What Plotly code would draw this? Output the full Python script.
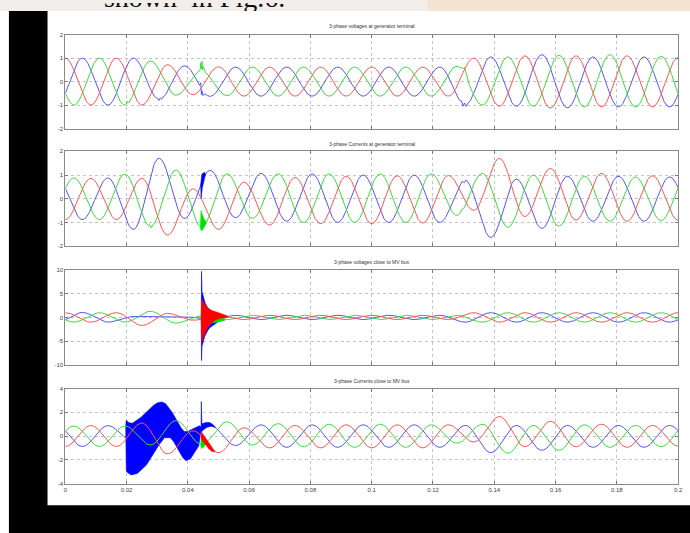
import numpy as np
import plotly.graph_objects as go

W, H = 690, 533
F = 60.0
HALF = 1.0 / (2 * F)          # half period between successive extrema

# ---------------- data (extremum values read every half cycle) ----------------
# Panel 1: 3-phase voltages at generator terminal
p1_red_first, p1_blue_first, p1_green_first = 0.0, -1 / 360, -1 / 180
p1_red = [1.0, -1.0, 1.0, -1.0, 0.72, -0.56, 0.63, -0.62, 0.62, -0.62, 0.62, -0.62, 0.62,
          -0.62, 0.62, -0.62, 1.0, -1.05, 1.1, -1.13, 1.1, -1.08, 1.1, -1.08, 1.02]
p1_blue = [-1.0, 1.0, -1.0, 1.0, -0.76, 0.67, -0.63, 0.62, -0.62, 0.62, -0.62, 0.62, -0.62,
           0.62, -0.62, 0.62, -1.0, 1.05, -1.05, 1.15, -1.12, 1.05, -1.08, 1.05, -1.08, 1.05]
p1_green = [1.0, -1.0, 1.0, -1.0, 0.88, -0.58, 0.45, -0.6, 0.62, -0.62, 0.62, -0.62, 0.62,
            -0.62, 0.62, -0.62, 0.65, -1.0, 1.05, -1.05, 1.12, -1.08, 1.15, -1.08, 1.08, -1.05]
p1_green_dev_t = [0.0198, 0.0202, 0.0206, 0.0210, 0.0436, 0.0440, 0.0442, 0.0444, 0.0446,
                  0.0448, 0.0451, 0.0455, 0.1285, 0.1297, 0.1303, 0.1310, 0.1320]
p1_green_dev_v = [0, 0.12, 0.0, 0, 0, 0.05, 0.35, 0.1, 0.42, 0.05, 0.2, 0, 0, 0.1, 0.3, 0.1, 0]
p1_blue_dev_t = [0.0295, 0.0300, 0.0305, 0.0310, 0.0315, 0.0320, 0.0326, 0.0335,
                 0.0438, 0.0442, 0.0444, 0.0446, 0.0449, 0.0453, 0.0458,
                 0.1288, 0.1293, 0.1298, 0.1303, 0.1308, 0.1313, 0.1320]
p1_blue_dev_v = [0, 0.06, -0.05, 0.06, -0.04, 0.05, -0.03, 0,
                 0, 0.2, -0.25, -0.05, -0.2, -0.05, 0,
                 0, 0.1, -0.08, 0.08, -0.06, 0.06, 0]

# Panel 2: 3-phase currents at generator terminal
p2_red_first, p2_blue_first, p2_green_first = 0.0, -1 / 360, -1 / 180
p2_green = [-0.88, 0.88, -0.88, 1.04, -1.18, 1.21, -1.2, 1.05, -0.83, 1.05, -1.0, 1.05, -1.0,
            1.05, -1.0, 1.05, -0.7, 1.07, -1.2, 1.0, -1.15, 0.95, -0.95, 0.92, -0.92, 0.9]
p2_red = [-0.88, 0.86, -0.88, 0.86, -1.53, 0.42, -1.29, 0.7, -1.11, 0.9, -1.05, 0.95, -1.05,
          0.97, -1.02, 0.98, -0.49, 1.7, -0.75, 1.28, -0.9, 1.07, -0.95, 0.97, -0.9]
p2_blue = [0.88, -0.88, 0.88, -1.29, 1.71, -0.83, 1.2, -0.8, 1.07, -0.95, 1.05, -1.0, 1.0,
           -1.0, 1.0, -1.0, 0.75, -1.63, 0.83, -1.25, 0.95, -0.95, 0.95, -0.95, 0.92, -0.9]
p2_green_dev_t = [0.0270, 0.0275, 0.0280, 0.0285, 0.0290, 0.1285, 0.1295, 0.1302, 0.1310]
p2_green_dev_v = [0, 0.08, -0.05, 0.06, 0, 0, 0.12, -0.05, 0]
p2_blue_dev_t = [0.1290, 0.1296, 0.1302, 0.1308, 0.1315]
p2_blue_dev_v = [0, 0.05, -0.08, 0.05, 0]
p2_blue_band_t = [0.0442, 0.0443, 0.0446, 0.0450, 0.0454, 0.0458]
p2_blue_band_up = [0, 0.35, 0.3, 0.2, 0.15, 0]
p2_blue_band_lo = [0, 0.65, 0.35, 0.2, 0.1, 0]
p2_green_band_t = [0.0441, 0.0443, 0.0446, 0.0450, 0.0455, 0.0461]
p2_green_band_up = [0, 0.7, 0.55, 0.4, 0.2, 0]
p2_green_band_lo = [0, 0.15, 0.15, 0.1, 0.05, 0]

# Panel 3: 3-phase voltages close to MV bus
p3_red_first, p3_blue_first, p3_green_first = 0.0, -1 / 360, -1 / 180
p3_red = [1.0, -1.0, 1.0, -1.7, 0.85, -0.6, 0.4, -0.45, 0.45, -0.45, 0.45, -0.45, 0.45,
          -0.45, 0.45, -0.45, 1.0, -1.0, 1.0, -1.0, 1.0, -1.0, 1.0, -1.0, 1.0]
p3_blue = [-1.0, 1.05, -1.0, 0.2, 0.2, 0.2, -0.45, 0.45, -0.45, 0.45, -0.45, 0.45, -0.45,
           0.45, -0.45, 0.45, -1.0, 1.0, -1.0, 1.0, -1.0, 1.0, -1.0, 1.0, -1.0, 1.0]
p3_green = [1.0, -1.0, 1.0, -1.0, 1.3, -1.2, 0.3, -0.45, 0.45, -0.45, 0.45, -0.45, 0.45,
            -0.45, 0.45, -0.45, 0.45, -1.0, 1.0, -1.0, 1.0, -1.0, 1.0, -1.0, 1.0, -1.0]
p3_blue_band_t = [0.04435, 0.04445, 0.0446, 0.0450, 0.0455, 0.0462, 0.0470, 0.0480, 0.0495, 0.0510]
p3_blue_band_up = [0, 10.0, 5.8, 4.6, 3.6, 2.6, 1.8, 1.2, 0.7, 0.3]
p3_blue_band_lo = [0, 8.8, 5.8, 4.6, 3.6, 2.6, 1.8, 1.2, 0.7, 0.3]
p3_green_band_t = [0.04435, 0.0445, 0.0450, 0.0460, 0.0470, 0.0485, 0.0500, 0.0520]
p3_green_band_up = [0, 3.0, 2.6, 1.9, 1.4, 0.9, 0.55, 0.2]
p3_green_band_lo = [0, 3.0, 2.6, 1.9, 1.4, 0.9, 0.55, 0.2]
p3_red_band_t = [0.04435, 0.0445, 0.0450, 0.0458, 0.0468, 0.0480, 0.0495, 0.0510, 0.0530]
p3_red_band_up = [0, 4.2, 3.5, 2.5, 1.7, 1.1, 0.7, 0.4, 0.15]
p3_red_band_lo = [0, 4.8, 4.0, 2.8, 1.9, 1.2, 0.75, 0.45, 0.15]

# Panel 4: 3-phase currents close to MV bus
p4_red_first, p4_blue_first, p4_green_first = 0.0, -1 / 360, -1 / 180
p4_green = [-0.88, 0.85, -0.88, 0.85, -0.75, 1.3, -0.7, 1.2, -0.75, 1.05, -0.9, 1.0, -0.95,
            1.0, -0.95, 0.95, -0.6, 1.0, -1.45, 0.9, -1.2, 0.95, -0.95, 0.9, -0.9, 0.9]
p4_red = [-0.88, 0.9, -0.88, 1.1, -1.5, 0.45, -1.4, 0.7, -1.0, 0.9, -1.0, 0.95, -1.0, 0.95,
          -1.0, 0.95, -0.5, 1.65, -0.9, 1.25, -0.9, 1.0, -0.95, 0.9, -0.85]
p4_blue = [0.88, -0.88, 0.88, -0.5, 1.5, -1.0, 0.9, -0.8, 0.95, -0.95, 0.95, -0.95, 0.95,
           -0.95, 0.95, -0.95, 0.9, -1.4, 0.9, -1.2, 0.9, -0.95, 0.9, -0.95, 0.9, -0.9]
# wide high-frequency blue band (absolute upper / lower envelope)
p4_blue_env_t = [0.0197, 0.0199, 0.0205, 0.0217, 0.0240, 0.0270, 0.0295, 0.0311, 0.0325,
                 0.0345, 0.0365, 0.0385, 0.0395, 0.0410, 0.0425, 0.0438, 0.0443]
p4_blue_env_up = [0.9, 1.35, 1.15, 1.05, 1.4, 2.2, 2.75, 2.9, 2.8, 2.2, 1.2, 0.4, 0.35,
                  0.5, 0.7, 0.9, 0.75]
p4_blue_env_lo = [0.85, -2.95, -3.15, -3.3, -3.1, -2.3, -1.2, -0.5, -0.1, -0.15, -0.9,
                  -1.9, -2.1, -1.9, -1.3, -0.7, 0.6]
p4_blue_band_t = [0.0443, 0.04438, 0.04446, 0.0446, 0.0450, 0.0460, 0.0470, 0.0480, 0.0490]
p4_blue_band_up = [0, 2.5, 1.0, 0.55, 0.5, 0.35, 0.25, 0.15, 0]
p4_blue_band_lo = [0, 0.1, 0.0, 0.0, 0.05, 0.1, 0.1, 0.05, 0]
p4_green_band_t = [0.0442, 0.0444, 0.0447, 0.0452, 0.0458, 0.0463]
p4_green_band_up = [0, 0.9, 0.5, 0.35, 0.2, 0]
p4_green_band_lo = [0, 0.35, 0.3, 0.25, 0.15, 0]
p4_red_band_t = [0.0443, 0.0445, 0.0452, 0.0462, 0.0472, 0.0482, 0.0488]
p4_red_band_up = [0, 0.35, 0.3, 0.28, 0.25, 0.15, 0]
p4_red_band_lo = [0, 0.35, 0.3, 0.28, 0.25, 0.15, 0]

titles = ["3-phase voltages at generator terminal", "3-phase Currents at generator terminal",
          "3-phase voltages close to MV bus", "3-phase Currents close to MV bus"]
x_ticks = [0, 0.02, 0.04, 0.06, 0.08, 0.1, 0.12, 0.14, 0.16, 0.18, 0.2]
x_labels = ["0", "0.02", "0.04", "0.06", "0.08", "0.1", "0.12", "0.14", "0.16", "0.18", "0.2"]
y_ticks = [[-2, -1, 0, 1, 2], [-2, -1, 0, 1, 2], [-10, -5, 0, 5, 10], [-4, -2, 0, 2, 4]]
y_labels = [["-2", "-1", "0", "1", "2"], ["-2", "-1", "0", "1", "2"],
            ["-10", "-5", "0", "5", "10"], ["-4", "-2", "0", "2", "4"]]
y_ranges = [[-2, 2], [-2, 2], [-10, 10], [-4, 4]]

# ---------------- helpers ----------------
def wave(t, first, vals):
    vals = np.asarray(vals, float)
    te = first + np.arange(len(vals)) * HALF
    idx = np.clip(np.searchsorted(te, t, side="right") - 1, 0, len(te) - 2)
    s = np.clip((t - te[idx]) / HALF, 0, 1)
    a, b = vals[idx], vals[idx + 1]
    return (a + b) / 2 + (a - b) / 2 * np.cos(np.pi * s)


def dev(t, dt, dv):
    if dt is None:
        return 0 * t
    return np.interp(t, dt, dv, left=0, right=0)


all_knots = []
for arr in [p1_green_dev_t, p1_blue_dev_t, p2_green_dev_t, p2_blue_dev_t]:
    all_knots += list(arr)
T = np.union1d(np.linspace(0, 0.2, 6001), np.array(all_knots))

COL_LINE = {"b": "rgb(85,85,255)", "g": "rgb(60,220,60)", "r": "rgb(255,85,85)"}
COL_BAND = {"b": "rgb(0,0,255)", "g": "rgb(0,225,0)", "r": "rgb(255,0,0)"}

panels = [
    dict(first={"r": p1_red_first, "b": p1_blue_first, "g": p1_green_first},
         vals={"r": p1_red, "b": p1_blue, "g": p1_green},
         dev={"g": (p1_green_dev_t, p1_green_dev_v), "b": (p1_blue_dev_t, p1_blue_dev_v)},
         bands={}, env={}),
    dict(first={"r": p2_red_first, "b": p2_blue_first, "g": p2_green_first},
         vals={"r": p2_red, "b": p2_blue, "g": p2_green},
         dev={"g": (p2_green_dev_t, p2_green_dev_v), "b": (p2_blue_dev_t, p2_blue_dev_v)},
         bands={"b": [(p2_blue_band_t, p2_blue_band_up, p2_blue_band_lo)],
                "g": [(p2_green_band_t, p2_green_band_up, p2_green_band_lo)]}, env={}),
    dict(first={"r": p3_red_first, "b": p3_blue_first, "g": p3_green_first},
         vals={"r": p3_red, "b": p3_blue, "g": p3_green}, dev={},
         bands={"b": [(p3_blue_band_t, p3_blue_band_up, p3_blue_band_lo)],
                "g": [(p3_green_band_t, p3_green_band_up, p3_green_band_lo)],
                "r": [(p3_red_band_t, p3_red_band_up, p3_red_band_lo)]}, env={}),
    dict(first={"r": p4_red_first, "b": p4_blue_first, "g": p4_green_first},
         vals={"r": p4_red, "b": p4_blue, "g": p4_green}, dev={},
         bands={"b": [(p4_blue_band_t, p4_blue_band_up, p4_blue_band_lo)],
                "g": [(p4_green_band_t, p4_green_band_up, p4_green_band_lo)],
                "r": [(p4_red_band_t, p4_red_band_up, p4_red_band_lo)]},
         env={"b": (p4_blue_env_t, p4_blue_env_up, p4_blue_env_lo)}),
]

fig = go.Figure()

x0p, x1p = 64 / W, 683 / W
pix_rows = [(32, 127), (150, 246), (270, 366), (390, 486)]
title_y = [23, 143, 262, 382]

for i, P in enumerate(panels):
    ax = "" if i == 0 else str(i + 1)
    for ph in ["b", "g", "r"]:
        d = P["dev"].get(ph, (None, None))
        base = lambda tt, ph=ph, d=d: wave(tt, P["first"][ph], P["vals"][ph]) + dev(tt, d[0], d[1])
        fig.add_trace(go.Scatter(x=T, y=base(T), mode="lines", xaxis="x" + ax, yaxis="y" + ax,
                                 line=dict(color=COL_LINE[ph], width=1.0), hoverinfo="skip",
                                 showlegend=False))
        if ph in P["env"]:
            et, eu, el = P["env"][ph]
            tt = np.union1d(np.linspace(et[0], et[-1], 300), et)
            up = np.interp(tt, et, eu)
            lo = np.interp(tt, et, el)
            fig.add_trace(go.Scatter(x=np.concatenate([tt, tt[::-1]]),
                                     y=np.concatenate([up, lo[::-1]]), mode="lines",
                                     fill="toself", fillcolor=COL_BAND[ph],
                                     line=dict(color=COL_BAND[ph], width=0.6),
                                     xaxis="x" + ax, yaxis="y" + ax, hoverinfo="skip",
                                     showlegend=False))
        for (bt, bu, bl) in P["bands"].get(ph, []):
            tt = np.union1d(np.linspace(bt[0], bt[-1], 200), bt)
            b0 = base(tt)
            up = b0 + np.interp(tt, bt, bu)
            lo = b0 - np.interp(tt, bt, bl)
            fig.add_trace(go.Scatter(x=np.concatenate([tt, tt[::-1]]),
                                     y=np.concatenate([up, lo[::-1]]), mode="lines",
                                     fill="toself", fillcolor=COL_BAND[ph],
                                     line=dict(color=COL_BAND[ph], width=0.6),
                                     xaxis="x" + ax, yaxis="y" + ax, hoverinfo="skip",
                                     showlegend=False))

# text at the very top (page text cut by the figure screenshot)
fig.add_trace(go.Scatter(x=[103], y=[-3.2], mode="text", text=["shown  in Fig.6."],
                         textposition="middle right", cliponaxis=True,
                         textfont=dict(family="Liberation Serif", size=28, color="#111"),
                         xaxis="x5", yaxis="y5", hoverinfo="skip", showlegend=False))

layout = dict(width=W, height=H, autosize=False, margin=dict(l=0, r=0, t=0, b=0),
              paper_bgcolor="black", plot_bgcolor="rgba(0,0,0,0)", showlegend=False)

for i in range(4):
    ax = "" if i == 0 else str(i + 1)
    top, bot = pix_rows[i]
    ydom = [1 - bot / H, 1 - top / H]
    common = dict(showgrid=True, gridcolor="#c4c4c4", griddash="dot", gridwidth=1,
                  ticks="inside", ticklen=3, tickcolor="#777", showline=True,
                  linecolor="#8a8a8a", linewidth=1, mirror="ticks", zeroline=False,
                  tickfont=dict(family="Liberation Sans", size=6, color="#444"))
    layout["xaxis" + ax] = dict(domain=[x0p, x1p], range=[0, 0.2], anchor="y" + ax,
                                tickmode="array", tickvals=x_ticks, ticktext=x_labels,
                                showticklabels=(i == 3), **common)
    layout["yaxis" + ax] = dict(domain=ydom, range=y_ranges[i], anchor="x" + ax,
                                tickmode="array", tickvals=y_ticks[i], ticktext=y_labels[i],
                                **common)

layout["xaxis5"] = dict(domain=[0, 1], range=[0, W], anchor="y5", visible=False)
layout["yaxis5"] = dict(domain=[1 - 8 / H, 1], range=[8, 0], anchor="x5", visible=False)


def px(x, y):
    return x / W, 1 - y / H


shapes = []
for (xa, ya, xb, yb, col) in [(46, 8, 720, 508, "white"), (-20, 8, 7, 560, "white"),
                              (-20, -20, 720, 8, "#f1eeeb"), (430, -20, 720, 8, "#f5e3d3")]:
    a = px(xa, ya)
    b = px(xb, yb)
    shapes.append(dict(type="rect", xref="paper", yref="paper", x0=a[0], x1=b[0],
                       y0=b[1], y1=a[1], fillcolor=col, line=dict(width=0), layer="below"))
layout["shapes"] = shapes

anns = []
for i in range(4):
    anns.append(dict(text=titles[i], xref="paper", yref="paper", x=(x0p + x1p) / 2,
                     y=1 - title_y[i] / H, showarrow=False, xanchor="center", yanchor="middle",
                     font=dict(family="Liberation Sans", size=5, color="#333")))
layout["annotations"] = anns

fig.update_layout(**layout)
fig.write_html("out.html")
